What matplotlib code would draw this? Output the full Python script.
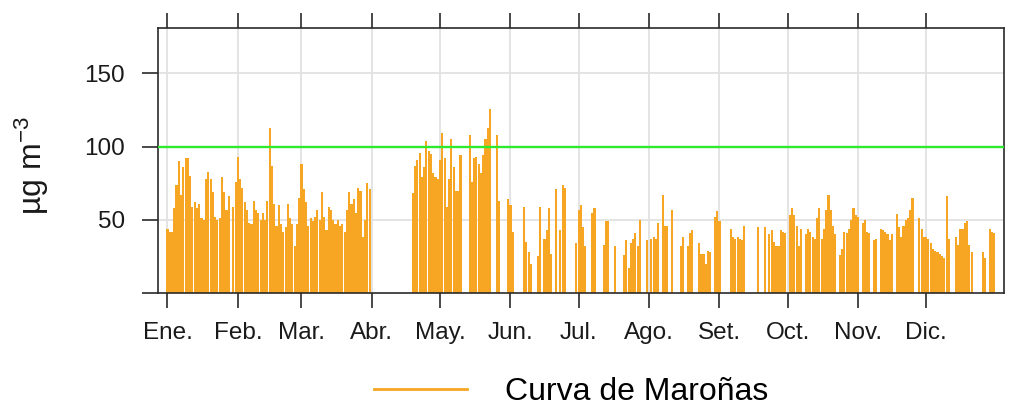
import numpy as np
import matplotlib
matplotlib.use('Agg')
import matplotlib.pyplot as plt
from matplotlib.lines import Line2D

n = np.nan

# Daily values (µg m-3), one list per month, NaN = missing day
jan = [44, 42, 42, 58, 74, 90, 67, 86, 92, 92,
       80, 59, 62, 58, 61, 51, 50, 78, 83, 78,
       69, 52, 50, 51, 79, 69, 57, 66, n, 59, 76]
feb = [93, 78, 72, 62, 57, 48, 47, 63,
       57, 55, 50, 55, 50, 63, 113, 87, 61, 46,
       60, 47, 42, 45, 61, 51, 47, 32, 47, 65]
mar = [88, 71, 62, 46, 51, 49, 52, 57, 50, 69,
       52, 43, 59, 57, 50, 47, 50, 46, 47, 42,
       57, 69, 61, 64, 55, 72, 70, 38, 50, 75, 71]
apr = [n] * 18 + [68, 87, 91, 96, 79, 86, 104, 97, 95, 82, 79, 78]
may = [91, 109, 92, 59, 78, 105, 86, 70, 70, 94,
       n, n, n, 108, 76, 92, 93, 88, 82, 94,
       105, 113, 126, n, n, 108, 63, n, n, n, 64]
jun = [60, 42, n, n, n, n, 59, 35, 28, 20,
       n, n, 25, 59, n, 37, 43, 58, 27, n,
       71, n, 43, 74, 72, n, n, n, n, 34]
jul = [57, 60, 45, 32, n, n, 55, 58, n, n,
       n, 33, 49, 49, n, n, 32, n, n, n,
       26, 36, 17, 34, 37, 41, 32, 50, n, n, 36]
aug = [n, 37, 38, 37, 48, n, 67, 46, 46, n,
       57, n, n, n, 32, 38, n, 32, 41, 43,
       n, n, 34, 27, 27, 20, 29, 28, n, 52, 56]
sep = [49, n, n, n, n, 44, 38, 37, 38, 37,
       36, 46, n, n, n, n, n, 45, n, n,
       45, n, 40, 43, 35, 32, 32, 43, 42, 41]
oct_ = [n, 53, 58, 53, 46, 32, 44, n, 40, 44,
        42, 38, 37, 51, 58, 37, 44, 57, 67, 57,
        46, 40, n, 26, 30, 42, 41, 44, 50, 58, 53]
nov = [52, n, 48, 50, 42, 41, n, 36, 37, n,
       44, 43, 42, 40, 36, 40, n, 54, 45, 38,
       46, 50, 51, 57, 65, n, n, 51, 44, 38]
dec = [38, 37, 34, 30, 29, 28, 27, 25, 24, 66,
       37, n, n, 38, 33, 44, 44, 48, 49, 33,
       28, n, n, n, n, 28, 24, n, 44, 42, 41]

month_labels = ['Ene.', 'Feb.', 'Mar.', 'Abr.', 'May.', 'Jun.',
                'Jul.', 'Ago.', 'Set.', 'Oct.', 'Nov.', 'Dic.']
month_lengths = [31, 28, 31, 30, 31, 30, 31, 31, 30, 31, 30, 31]
limit_value = 100
y_ticks = [0, 50, 100, 150]
y_tick_labels = ['', '50', '100', '150']
series_name = 'Curva de Maroñas'

plt.rcParams['font.family'] = ['Liberation Sans', 'DejaVu Sans']
plt.rcParams['mathtext.fontset'] = 'custom'
plt.rcParams['mathtext.rm'] = 'Liberation Sans'
plt.rcParams['mathtext.it'] = 'Liberation Sans:italic'
plt.rcParams['mathtext.default'] = 'regular'

orange = '#F6A623'
green = '#2EEA2E'
grid_c = '#E2E2E2'
spine_c = '#2A2A2A'

values = np.array(jan + feb + mar + apr + may + jun + jul + aug + sep + oct_ + nov + dec, dtype=float)
days = np.arange(len(values))
month_starts = np.concatenate([[0], np.cumsum(month_lengths)[:-1]])

fig = plt.figure(figsize=(10.14, 4.07), dpi=100)
ax = fig.add_axes([0.1555, 0.280, 0.8345, 0.651])
ax.set_xlim(-4.3, 368.2)
ax.set_ylim(0, 181)

for m in month_starts:
    ax.axvline(m, color=grid_c, lw=1.3, zorder=0)
for yv in y_ticks[1:]:
    ax.axhline(yv, color=grid_c, lw=1.3, zorder=0)

mask = np.isfinite(values)
ax.bar(days[mask], values[mask], width=0.93, color=orange, linewidth=0, zorder=2)
ax.axhline(limit_value, color=green, lw=1.7, zorder=3)

ax.set_xticks(month_starts)
ax.set_xticklabels(month_labels)
ax.set_yticks(y_ticks)
ax.set_yticklabels(y_tick_labels)
ax.tick_params(axis='x', which='both', top=True, labeltop=False, bottom=True,
               length=11, width=1.2, pad=10, labelsize=17.5, direction='out',
               color=spine_c, labelcolor='#1A1A1A')
ax.tick_params(axis='y', length=11.5, width=1.2, pad=12, labelsize=17.5,
               direction='out', color=spine_c, labelcolor='#1A1A1A')
for s in ax.spines.values():
    s.set_color(spine_c)
    s.set_linewidth(1.2)

fig.text(32 / 1014, 1 - 166 / 407, 'µg m$^{-3}$', rotation=90, ha='center', va='center',
         fontsize=23, color='#1A1A1A')

fig.legend(handles=[Line2D([], [], color=orange, lw=2)], labels=[series_name],
           loc='center', bbox_to_anchor=(0.5636, 0.037), frameon=False, fontsize=23,
           handlelength=2.9, handletextpad=1.2)

fig.savefig('out.png', dpi=100)
